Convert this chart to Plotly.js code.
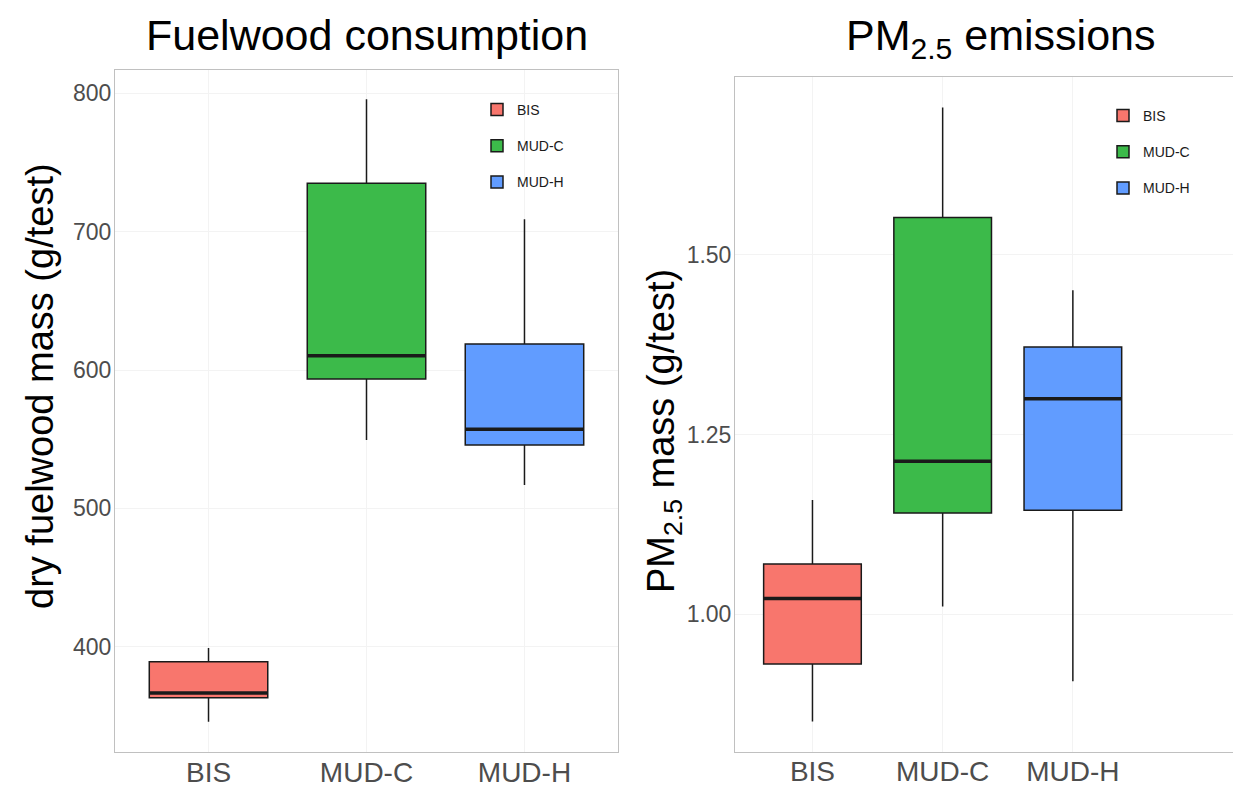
<!DOCTYPE html>
<html>
<head>
<meta charset="utf-8">
<script src="https://cdn.plot.ly/plotly-3.0.1.min.js"></script>
<style>
  html, body { margin: 0; padding: 0; background: #ffffff; }
  #chart { width: 1233px; height: 788px; }
</style>
</head>
<body>
<div id="chart"></div>
<script>
// Stove types and their fill colours
const stoves = ['BIS', 'MUD-C', 'MUD-H'];
const stoveColors = ['#f8766d', '#3cba4a', '#619cff'];

// Fuelwood consumption, dry mass (g/test): box statistics per stove
const fuelLow    = [345.8, 549.5, 516.9];
const fuelQ1     = [363.1, 593.6, 545.8];
const fuelMedian = [366.5, 610.4, 557.2];
const fuelQ3     = [389.2, 735.1, 618.9];
const fuelHigh   = [399.1, 795.8, 709.0];

// PM2.5 emissions, mass (g/test): box statistics per stove
const pmLow    = [0.851, 1.011, 0.907];
const pmQ1     = [0.931, 1.141, 1.145];
const pmMedian = [1.022, 1.213, 1.300];
const pmQ3     = [1.070, 1.552, 1.372];
const pmHigh   = [1.159, 1.705, 1.451];

// Axis tick values and labels
const fuelTicks = [400, 500, 600, 700, 800];
const fuelTickText = ['400', '500', '600', '700', '800'];
const pmTicks = [1.00, 1.25, 1.50];
const pmTickText = ['1.00', '1.25', '1.50'];

const W = 1233, H = 788;
const px = v => v / W;          // horizontal pixel -> paper fraction
const py = v => 1 - v / H;      // vertical pixel (from top) -> paper fraction

const FONT = '"Liberation Sans", Arial, Helvetica, sans-serif';
const INK = '#1a1a1a';
const BOX_W = 0.75;

function boxTraces(low, q1, med, q3, high, xa, ya, legendId) {
  return stoves.map((s, i) => ({
    type: 'box',
    name: s,
    x: [s],
    lowerfence: [low[i]],
    q1: [q1[i]],
    median: [med[i]],
    q3: [q3[i]],
    upperfence: [high[i]],
    xaxis: xa,
    yaxis: ya,
    legend: legendId,
    legendgroup: legendId + s,
    width: BOX_W,
    whiskerwidth: 0,
    boxpoints: false,
    fillcolor: stoveColors[i],
    line: { color: INK, width: 1.5 },
    hoverinfo: 'y+name'
  }));
}

// Thicker median bars, positioned from the median arrays on each axis pair
function medianShapes(med, xa, ya) {
  return med.map((m, i) => ({
    type: 'line', layer: 'above',
    xref: xa, yref: ya,
    x0: i - BOX_W / 2, x1: i + BOX_W / 2,
    y0: m, y1: m,
    line: { color: INK, width: 3.5 }
  }));
}

const data = [
  ...boxTraces(fuelLow, fuelQ1, fuelMedian, fuelQ3, fuelHigh, 'x', 'y', 'legend'),
  ...boxTraces(pmLow, pmQ1, pmMedian, pmQ3, pmHigh, 'x2', 'y2', 'legend2')
];

const frame = '#c0c0c0';
const grid = '#f3f3f3';
const xTickFont = { family: FONT, size: 28, color: '#4d4d4d' };
const yTickFont = { family: FONT, size: 23, color: '#4d4d4d' };

function xAxis(domain, range, anchor) {
  return {
    type: 'category', categoryorder: 'array', categoryarray: stoves,
    domain: domain, range: range, anchor: anchor,
    showline: true, mirror: true, linecolor: frame, linewidth: 1,
    showgrid: true, gridcolor: grid, zeroline: false,
    ticks: '', tickfont: xTickFont, ticklabelstandoff: -5, fixedrange: true
  };
}

function yAxis(domain, range, anchor, tv, tt, mirror) {
  return {
    domain: domain, range: range, anchor: anchor,
    tickmode: 'array', tickvals: tv, ticktext: tt,
    showline: true, mirror: mirror, linecolor: frame, linewidth: 1,
    showgrid: true, gridcolor: grid, zeroline: false,
    ticks: '', tickfont: yTickFont, ticklabelstandoff: -2, fixedrange: true
  };
}

const legendBase = {
  xanchor: 'left', yanchor: 'top',
  font: { family: FONT, size: 14, color: INK },
  bgcolor: 'rgba(0,0,0,0)', borderwidth: 0,
  tracegroupgap: 15, traceorder: 'grouped'
};

const layout = {
  width: W, height: H,
  margin: { l: 0, r: 0, t: 0, b: 0, pad: 0 },
  paper_bgcolor: '#ffffff', plot_bgcolor: '#ffffff',
  font: { family: FONT, color: INK },
  boxmode: 'overlay',
  showlegend: true,
  xaxis: xAxis([px(115), px(618)], [-0.592, 2.592], 'y'),
  yaxis: yAxis([py(752), py(70)], [323.9, 816.9], 'x', fuelTicks, fuelTickText, true),
  xaxis2: xAxis([px(735), 1], [-0.595, 3.23], 'y2'),
  yaxis2: yAxis([py(751.7), py(76.7)], [0.809, 1.748], 'x2', pmTicks, pmTickText, false),
  legend: Object.assign({ x: px(477), y: py(94) }, legendBase),
  legend2: Object.assign({ x: px(1103), y: py(100) }, legendBase),
  shapes: [
    ...medianShapes(fuelMedian, 'x', 'y'),
    ...medianShapes(pmMedian, 'x2', 'y2')
  ],
  annotations: [
    { text: 'Fuelwood consumption', xref: 'paper', yref: 'paper',
      x: px(367), y: py(35), xanchor: 'center', yanchor: 'middle', showarrow: false,
      font: { family: FONT, size: 43, color: '#000000' } },
    { text: 'PM<sub>2.5</sub> emissions', xref: 'paper', yref: 'paper',
      x: px(1000), y: py(38), xanchor: 'center', yanchor: 'middle', showarrow: false,
      font: { family: FONT, size: 43, color: '#000000' } },
    { text: 'dry fuelwood mass (g/test)', xref: 'paper', yref: 'paper',
      x: px(40), y: py(386), xanchor: 'center', yanchor: 'middle', textangle: -90,
      showarrow: false, font: { family: FONT, size: 38, color: '#000000' } },
    { text: 'PM<sub>2.5</sub> mass (g/test)', xref: 'paper', yref: 'paper',
      x: px(664), y: py(431), xanchor: 'center', yanchor: 'middle', textangle: -90,
      showarrow: false, font: { family: FONT, size: 38, color: '#000000' } }
  ]
};

Plotly.newPlot('chart', data, layout, { displayModeBar: false, staticPlot: true });
</script>
</body>
</html>
